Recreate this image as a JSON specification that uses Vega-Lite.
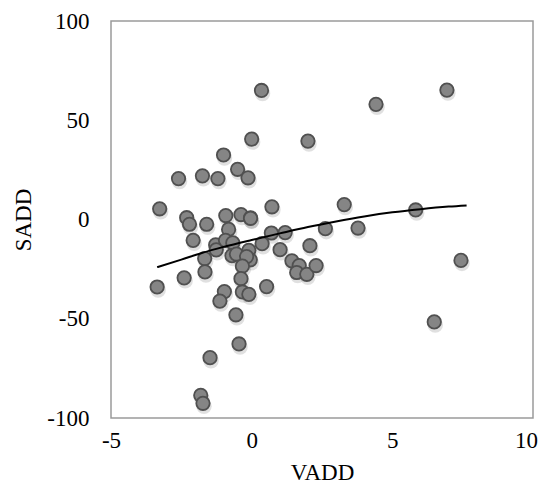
{
  "$schema": "https://vega.github.io/schema/vega-lite/v6.json",
  "width": 422,
  "height": 397,
  "autosize": "none",
  "padding": {"left": 111, "top": 21, "right": 8, "bottom": 68},
  "background": "white",
  "config": {
    "view": {"stroke": "#9a9a9a", "strokeWidth": 1.5},
    "font": "Liberation Serif"
  },
  "datasets": {
    "pts": [
      {"VADD": 0.35, "SADD": 65}, {"VADD": 0.0, "SADD": 40.5}, {"VADD": 2.0, "SADD": 39.5},
      {"VADD": -1.0, "SADD": 32.5}, {"VADD": -0.5, "SADD": 25.3}, {"VADD": -0.13, "SADD": 21},
      {"VADD": -1.75, "SADD": 22}, {"VADD": -1.2, "SADD": 20.6}, {"VADD": -2.6, "SADD": 20.6},
      {"VADD": 0.72, "SADD": 6.4}, {"VADD": -3.27, "SADD": 5.4}, {"VADD": -2.31, "SADD": 0.9},
      {"VADD": -0.92, "SADD": 2.0}, {"VADD": -0.38, "SADD": 2.5}, {"VADD": -0.04, "SADD": 0.8},
      {"VADD": -0.04, "SADD": 0.6}, {"VADD": -2.21, "SADD": -2.4}, {"VADD": -1.6, "SADD": -2.4},
      {"VADD": -0.82, "SADD": -5.0}, {"VADD": -2.08, "SADD": -10.5}, {"VADD": -1.28, "SADD": -12.8},
      {"VADD": -1.26, "SADD": -15.3}, {"VADD": -0.93, "SADD": -10.5}, {"VADD": -0.67, "SADD": -11.8},
      {"VADD": -0.7, "SADD": -18.2}, {"VADD": -0.54, "SADD": -17.4}, {"VADD": -0.1, "SADD": -15.5},
      {"VADD": -0.05, "SADD": -20.3}, {"VADD": -0.18, "SADD": -18.7}, {"VADD": -0.33, "SADD": -23.5},
      {"VADD": 0.37, "SADD": -12.2}, {"VADD": 0.7, "SADD": -6.8}, {"VADD": 1.19, "SADD": -6.6},
      {"VADD": 1.01, "SADD": -15.2}, {"VADD": 2.07, "SADD": -13.2}, {"VADD": 1.43, "SADD": -20.8},
      {"VADD": 1.69, "SADD": -23.2}, {"VADD": 1.6, "SADD": -26.7}, {"VADD": 1.96, "SADD": -27.6},
      {"VADD": 2.29, "SADD": -23.2}, {"VADD": -1.67, "SADD": -19.7}, {"VADD": -1.66, "SADD": -26.4},
      {"VADD": -2.4, "SADD": -29.4}, {"VADD": -3.36, "SADD": -34}, {"VADD": -0.38, "SADD": -29.8},
      {"VADD": -0.97, "SADD": -36.3}, {"VADD": -1.13, "SADD": -41.1}, {"VADD": -0.33, "SADD": -36.5},
      {"VADD": -0.1, "SADD": -37.7}, {"VADD": 0.53, "SADD": -33.8}, {"VADD": -0.56, "SADD": -48},
      {"VADD": -0.45, "SADD": -62.7}, {"VADD": -1.48, "SADD": -69.6}, {"VADD": -1.81, "SADD": -88.6},
      {"VADD": -1.73, "SADD": -92.6}, {"VADD": 3.29, "SADD": 7.5}, {"VADD": 5.83, "SADD": 4.8},
      {"VADD": 2.62, "SADD": -4.6}, {"VADD": 3.78, "SADD": -4.3}, {"VADD": 7.44, "SADD": -20.6},
      {"VADD": 6.49, "SADD": -51.6}, {"VADD": 4.42, "SADD": 58}, {"VADD": 6.94, "SADD": 65.2}
    ],
    "trend": [
      {"VADD": -3.36, "SADD": -24.0}, {"VADD": -2.5, "SADD": -20.2}, {"VADD": -1.8, "SADD": -17.0},
      {"VADD": -1.0, "SADD": -13.8}, {"VADD": 0.0, "SADD": -10.3}, {"VADD": 1.0, "SADD": -7.0},
      {"VADD": 2.0, "SADD": -3.8}, {"VADD": 3.0, "SADD": -1.0}, {"VADD": 4.0, "SADD": 1.5},
      {"VADD": 5.0, "SADD": 3.6}, {"VADD": 6.0, "SADD": 5.2}, {"VADD": 7.0, "SADD": 6.5},
      {"VADD": 7.64, "SADD": 7.1}
    ]
  },
  "encoding": {
    "x": {
      "field": "VADD", "type": "quantitative",
      "scale": {"domain": [-5, 10], "nice": false, "zero": false},
      "axis": {
        "values": [-5, 0, 5, 10], "grid": false, "ticks": false, "domain": false,
        "labelExpr": "'' + datum.value",
        "labelFontSize": 23, "labelColor": "#000", "labelPadding": 11,
        "labelOffset": {"condition": {"test": "datum.value == 10", "value": -7}, "value": 0},
        "labelFlush": false,
        "title": "VADD", "titleFontSize": 23, "titleFontWeight": "normal", "titleColor": "#000", "titlePadding": 9
      }
    },
    "y": {
      "field": "SADD", "type": "quantitative",
      "scale": {"domain": [-100, 100], "nice": false, "zero": false},
      "axis": {
        "values": [-100, -50, 0, 50, 100], "grid": false, "ticks": false, "domain": false,
        "labelExpr": "'' + datum.value",
        "labelFontSize": 23, "labelColor": "#000", "labelPadding": 22,
        "title": "SADD", "titleFontSize": 23, "titleFontWeight": "normal", "titleColor": "#000", "titlePadding": 11
      }
    }
  },
  "layer": [
    {
      "data": {"values": [{"v": 0}]},
      "mark": {"type": "rule", "color": "#9a9a9a", "strokeWidth": 1.5},
      "encoding": {"x": {"datum": 0, "type": "quantitative"}, "y": null}
    },
    {
      "data": {"values": [{"v": 0}]},
      "mark": {"type": "rule", "color": "#9a9a9a", "strokeWidth": 1.5},
      "encoding": {"y": {"datum": 0, "type": "quantitative"}, "x": null}
    },
    {
      "data": {"name": "pts"},
      "mark": {"type": "point", "filled": true, "color": "#000", "opacity": 0.12, "size": 240, "xOffset": 1, "yOffset": 3, "strokeWidth": 0}
    },
    {
      "data": {"name": "pts"},
      "mark": {"type": "point", "filled": true, "fill": "#858585", "stroke": "#505050", "strokeWidth": 1.8, "size": 180, "opacity": 1}
    },
    {
      "data": {"name": "trend"},
      "mark": {"type": "line", "color": "#000", "strokeWidth": 2, "interpolate": "monotone"}
    }
  ]
}
